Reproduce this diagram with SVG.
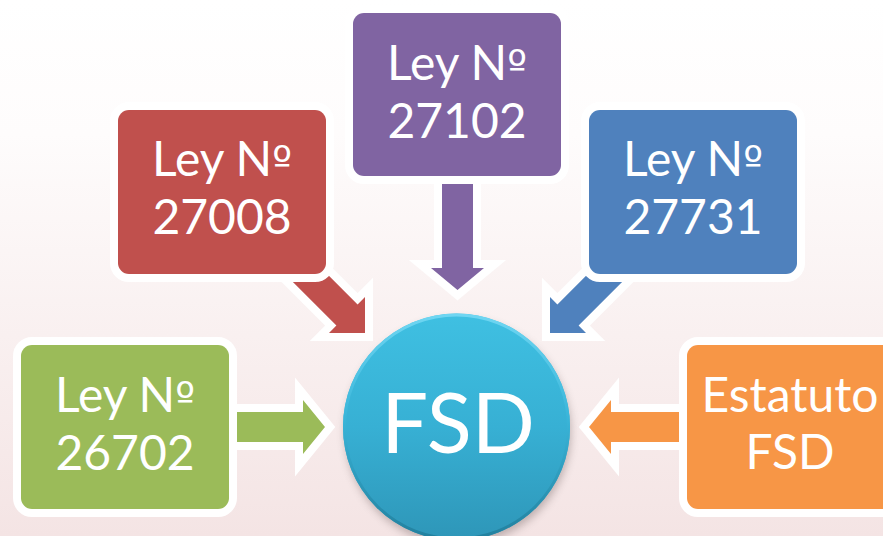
<svg xmlns="http://www.w3.org/2000/svg" width="883" height="536" viewBox="0 0 883 536">
  <defs>
    <linearGradient id="bg" x1="0" y1="0" x2="0" y2="1">
      <stop offset="0" stop-color="#ffffff"/>
      <stop offset="0.25" stop-color="#fefcfc"/>
      <stop offset="1" stop-color="#f4e4e4"/>
    </linearGradient>
    <linearGradient id="ball" x1="0" y1="0" x2="0" y2="1">
      <stop offset="0" stop-color="#3fc0e2"/>
      <stop offset="0.5" stop-color="#37b0d4"/>
      <stop offset="1" stop-color="#2e96b8"/>
    </linearGradient>
    <linearGradient id="rim" x1="0" y1="0" x2="0" y2="1">
      <stop offset="0" stop-color="#6fd6f2"/>
      <stop offset="0.45" stop-color="#3ab6da"/>
      <stop offset="1" stop-color="#22809e"/>
    </linearGradient>
    <filter id="shadow" x="-30%" y="-30%" width="160%" height="160%">
      <feGaussianBlur stdDeviation="4"/>
    </filter>
    <style>
      .box { stroke: #ffffff; stroke-width: 16; paint-order: stroke; }
      .arrow { stroke: #ffffff; stroke-width: 16; stroke-linejoin: miter; stroke-miterlimit: 4; paint-order: stroke; }
      .lbl { font-family: Lato, "Open Sans", "Liberation Sans", sans-serif; font-size: 48px; fill: #ffffff; text-anchor: middle; }
      .ord { font-family: "DejaVu Sans", sans-serif; font-size: 42px; }
      .green { fill: #9bbb59; }
      .red { fill: #c0504d; }
      .purple { fill: #8064a2; }
      .blue { fill: #4f81bd; }
      .orange { fill: #f79646; }
    </style>
  </defs>

  <rect x="0" y="0" width="883" height="536" fill="url(#bg)"/>

  <!-- connectors: block arrows pointing at the hub -->
  <g id="connectors">
    <polygon class="arrow green" points="225,412 303,412 303,400 325,427 303,454 303,442 225,442"/>
    <polygon class="arrow orange" points="700,412 611,412 611,400 589,427 611,454 611,442 700,442"/>
    <polygon class="arrow purple" points="442,165 473,165 473,268 484,268 457.5,290 431,268 442,268"/>
    <polygon class="arrow red" points="287.6,234.4 357.6,304.4 365,297 365,333 329,333 336.4,325.6 266.4,255.6"/>
    <polygon class="arrow blue" points="627.4,234.4 557.4,304.4 550,297 550,333 586,333 578.6,325.6 648.6,255.6"/>
  </g>

  <g id="node-26702">
    <rect class="box green" x="21" y="345" width="208" height="164" rx="11"/>
    <text class="lbl"><tspan x="125" y="412">Ley N<tspan class="ord">º</tspan></tspan><tspan x="125" y="470">26702</tspan></text>
  </g>

  <g id="node-27008">
    <rect class="box red" x="118" y="110" width="208" height="164" rx="11"/>
    <text class="lbl"><tspan x="222" y="176">Ley N<tspan class="ord">º</tspan></tspan><tspan x="222" y="234">27008</tspan></text>
  </g>

  <g id="node-27102">
    <rect class="box purple" x="353" y="13" width="208" height="163" rx="11"/>
    <text class="lbl"><tspan x="457" y="80">Ley N<tspan class="ord">º</tspan></tspan><tspan x="457" y="138">27102</tspan></text>
  </g>

  <g id="node-27731">
    <rect class="box blue" x="589" y="110" width="208" height="164" rx="11"/>
    <text class="lbl"><tspan x="693" y="176">Ley N<tspan class="ord">º</tspan></tspan><tspan x="693" y="234">27731</tspan></text>
  </g>

  <g id="node-estatuto">
    <rect class="box orange" x="687" y="345" width="208" height="164" rx="11"/>
    <text class="lbl"><tspan x="790" y="412">Estatuto</tspan><tspan x="790" y="469">FSD</tspan></text>
  </g>

  <g id="node-fsd">
    <circle cx="458" cy="432" r="113" fill="#7a6a6a" opacity="0.45" filter="url(#shadow)"/>
    <circle cx="456.5" cy="427" r="113.5" fill="url(#ball)"/>
    <circle cx="456.5" cy="427" r="112" fill="none" stroke="url(#rim)" stroke-width="3"/>
    <text x="458" y="453" font-family="Lato, 'Open Sans', 'Liberation Sans', sans-serif" font-size="83" fill="#ffffff" text-anchor="middle">FSD</text>
  </g>
</svg>
